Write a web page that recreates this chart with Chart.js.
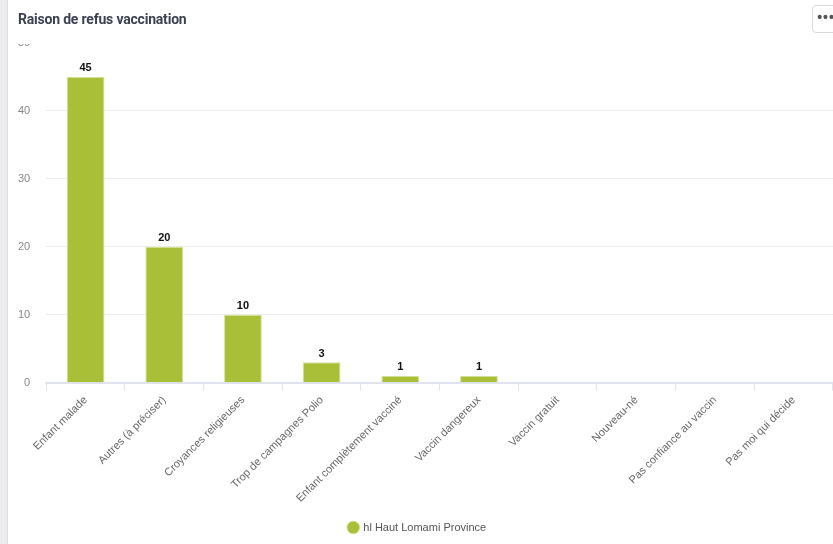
<!DOCTYPE html>
<html>
<head>
<meta charset="utf-8">
<script src="https://cdn.jsdelivr.net/npm/chart.js@4"></script>
<style>
  html, body { margin: 0; padding: 0; width: 833px; height: 544px; overflow: hidden; background: #fff; }
  #strip { position: absolute; left: 0; top: 0; width: 7px; height: 544px; background: #ececef; border-right: 1px solid #dcdde2; z-index: 3; }
  #head { position: absolute; left: 8px; top: 0; width: 825px; height: 44px; background: #fff; z-index: 2; }
  #title { position: absolute; left: 10px; top: 11px; font: bold 14px Roboto, sans-serif; color: #3b4151; letter-spacing: -0.2px; }
  #menu { position: absolute; left: 804px; top: 5px; width: 26px; height: 26px; border: 1px solid #d6d8de; border-radius: 4px; background: #fff;
          font: bold 14px Arial, sans-serif; color: #555; text-align: center; line-height: 22px; letter-spacing: 1px; }
  #wrap { position: absolute; left: 2px; top: 0; width: 831px; height: 544px; }
</style>
</head>
<body>
<div id="strip"></div>
<div id="head">
  <div id="title">Raison de refus vaccination</div>
  <div id="menu">•••</div>
</div>
<div id="wrap"><canvas id="c"></canvas></div>
<script>
// données
const categories = [
  'Enfant malade',
  'Autres (à préciser)',
  'Croyances religieuses',
  'Trop de campagnes Polio',
  'Enfant complètement vacciné',
  'Vaccin dangereux',
  'Vaccin gratuit',
  'Nouveau-né',
  'Pas confiance au vaccin',
  'Pas moi qui décide'
];
const valeurs = [45, 20, 10, 3, 1, 1, 0, 0, 0, 0];
const nomSerie = 'hl Haut Lomami Province';
const ticksY = [0, 10, 20, 30, 40, 50];

// étiquettes au-dessus des barres
const etiquettesBarres = {
  id: 'etiquettesBarres',
  afterDatasetsDraw(chart) {
    const ctx = chart.ctx;
    const meta = chart.getDatasetMeta(0);
    ctx.save();
    ctx.font = 'bold 11px Arial, sans-serif';
    ctx.fillStyle = '#111';
    ctx.textAlign = 'center';
    ctx.textBaseline = 'bottom';
    meta.data.forEach((bar, i) => {
      if (!valeurs[i]) return;
      ctx.fillText(valeurs[i], bar.x, bar.y - 3);
    });
    ctx.restore();
  }
};

const ctx = document.getElementById('c').getContext('2d');
new Chart(ctx, {
  type: 'bar',
  data: {
    labels: categories,
    datasets: [{
      label: nomSerie,
      data: valeurs,
      backgroundColor: '#a9bf38',
      borderColor: '#d3e29a',
      borderWidth: 1,
      barPercentage: 0.6,
      categoryPercentage: 0.8
    }]
  },
  options: {
    responsive: true,
    maintainAspectRatio: false,
    animation: false,
    layout: { padding: { top: 43, right: 0, left: 0, bottom: 1 } },
    scales: {
      x: {
        grid: { drawOnChartArea: false, tickLength: 8, color: '#dfe3ee', offset: true },
        border: { color: '#dfe3ee', width: 2 },
        ticks: {
          color: '#666',
          font: { family: 'Arial, sans-serif', size: 11 },
          minRotation: 45,
          maxRotation: 45,
          autoSkip: false
        }
      },
      y: {
        min: 0,
        max: 50,
        afterBuildTicks(axis) { axis.ticks = ticksY.map(v => ({ value: v })); },
        grid: { color: '#ececec', drawTicks: false },
        border: { display: false },
        ticks: {
          color: '#888',
          padding: 16,
          font: { family: 'Arial, sans-serif', size: 11 }
        }
      }
    },
    plugins: {
      legend: {
        position: 'bottom',
        labels: {
          usePointStyle: true,
          pointStyle: 'circle',
          boxWidth: 9,
          boxHeight: 9,
          color: '#555',
          font: { family: 'Arial, sans-serif', size: 11 },
          padding: 14
        }
      },
      tooltip: { enabled: false }
    }
  },
  plugins: [etiquettesBarres]
});
</script>
</body>
</html>
